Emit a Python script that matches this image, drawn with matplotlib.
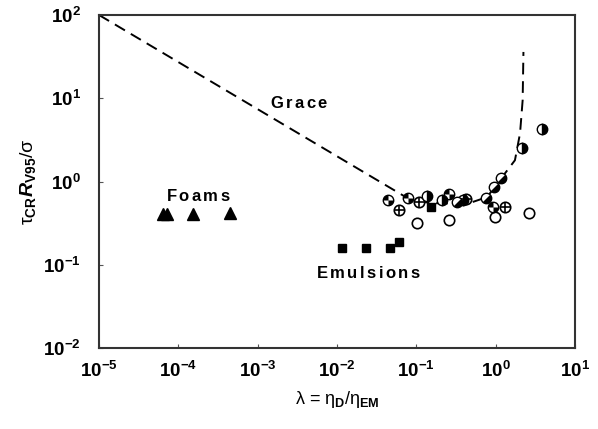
import numpy as np
import matplotlib
matplotlib.use("Agg")
import matplotlib.pyplot as plt
from matplotlib.path import Path
from matplotlib.ticker import FixedLocator, FuncFormatter, NullLocator

plt.rcParams['font.family'] = ['Liberation Sans', 'DejaVu Sans']
plt.rcParams['mathtext.fontset'] = 'custom'
plt.rcParams['mathtext.rm'] = 'Liberation Sans'
plt.rcParams['mathtext.it'] = 'Liberation Sans:italic:bold'
plt.rcParams['mathtext.bf'] = 'Liberation Sans:bold'
plt.rcParams['axes.unicode_minus'] = False

# ---- data ----
grace_x = [1e-5, 0.08, 0.15, 0.44, 0.78, 1.13, 1.75, 2.03, 2.19, 2.24]
grace_y = [100, 0.62, 0.55, 0.54, 0.65, 1.04, 1.8, 3.8, 9.5, 36]

foams_x = [6.4e-5, 7.2e-5, 1.53e-4, 4.47e-4]
foams_y = [0.41, 0.41, 0.41, 0.42]

emul_x = [0.0117, 0.0232, 0.0466, 0.060, 0.151]
emul_y = [0.158, 0.158, 0.160, 0.189, 0.49]

open_x = [0.101, 0.26, 0.977, 2.65]
open_y = [0.32, 0.345, 0.37, 0.42]

cross_x = [0.061, 0.108, 0.417, 1.3]
cross_y = [0.46, 0.56, 0.62, 0.50]

quad_x = [0.0435, 0.0778, 0.26, 0.918]
quad_y = [0.60, 0.63, 0.70, 0.50]

half_x = [0.135, 0.209, 0.385, 2.17, 3.8]
half_y = [0.67, 0.60, 0.60, 2.55, 4.24]

diag_x = [0.323, 0.755, 0.953, 1.167]
diag_y = [0.57, 0.63, 0.87, 1.09]

x_ticks = [1e-5, 1e-4, 1e-3, 1e-2, 1e-1, 1e0, 1e1]
y_ticks = [1e-2, 1e-1, 1e0, 1e1, 1e2]

# ---- custom marker paths ----
quad_path = Path.make_compound_path(Path.wedge(90, 180), Path.wedge(270, 360))
diag_path = Path.wedge(-135, 45)

fig = plt.figure(figsize=(5.98, 4.29), dpi=100)
ax = fig.add_axes([0.1656, 0.1888, 0.7959, 0.7762])
ax.set_xscale('log')
ax.set_yscale('log')
ax.set_xlim(1e-5, 1e1)
ax.set_ylim(1e-2, 1e2)

ax.plot(grace_x, grace_y, ls=(0, (6, 3.5)), color='black', lw=1.4, zorder=2)

ms = 7.5
# open circles
ax.plot(open_x, open_y, 'o', ms=ms, mfc='white', mec='black', mew=1.2, ls='none', zorder=3)
# crossed circles
ax.plot(cross_x, cross_y, 'o', ms=ms, mfc='white', mec='black', mew=1.2, ls='none', zorder=3)
ax.plot(cross_x, cross_y, '+', ms=ms, mec='black', mew=1.2, ls='none', zorder=4)
# quadrant circles
ax.plot(quad_x, quad_y, 'o', ms=ms, mfc='white', mec='black', mew=1.0, ls='none', zorder=3)
ax.plot(quad_x, quad_y, marker=quad_path, ms=ms, mfc='black', mec='none', ls='none', zorder=4)
# half-filled circles (right half black)
ax.plot(half_x, half_y, 'o', ms=ms, fillstyle='right', mfc='black', markerfacecoloralt='white',
        mec='black', mew=1.0, ls='none', zorder=3)
# diagonal half circles
ax.plot(diag_x, diag_y, 'o', ms=ms, mfc='white', mec='black', mew=1.0, ls='none', zorder=3)
ax.plot(diag_x, diag_y, marker=diag_path, ms=ms, mfc='black', mec='none', ls='none', zorder=4)
# emulsions
ax.plot(emul_x, emul_y, 's', ms=6.3, mfc='black', mec='black', ls='none', zorder=5)
# foams
ax.plot(foams_x, foams_y, '^', ms=8, mfc='black', mec='black', ls='none', zorder=5)

def spaced(s):
    return r'$\mathbf{' + r'\,'.join(s) + '}$'

lbl_kw = dict(fontsize=12, ha='center', va='center')
ax.text(3.37e-3, 8.77, spaced('Grace'), **lbl_kw)
ax.text(1.8e-4, 0.67, spaced('Foams'), **lbl_kw)
ax.text(0.0251, 0.0803, spaced('Emulsions'), **lbl_kw)

def fmt(v, pos):
    e = int(round(np.log10(v)))
    return r'$\mathbf{10^{%d}}$' % e

ax.xaxis.set_major_locator(FixedLocator(x_ticks))
ax.yaxis.set_major_locator(FixedLocator(y_ticks))
ax.xaxis.set_minor_locator(NullLocator())
ax.yaxis.set_minor_locator(NullLocator())
ax.xaxis.set_major_formatter(FuncFormatter(fmt))
ax.yaxis.set_major_formatter(FuncFormatter(fmt))
ax.tick_params(direction='in', length=3, width=0.8, color='#555555', labelsize=13.5, pad=9)
ax.tick_params(axis='y', pad=13)
for s in ax.spines.values():
    s.set_color('#333333')
    s.set_linewidth(1.5)

ax.set_xlabel(r'λ = η$_{\mathbf{D}}$/η$_{\mathbf{EM}}$', fontsize=13, labelpad=6)
ax.set_ylabel(r'τ$_{\mathbf{CR}}$$\mathit{R}$$_{\mathbf{V95}}$/σ', fontsize=14, labelpad=4)

fig.savefig('out.png', dpi=100)
